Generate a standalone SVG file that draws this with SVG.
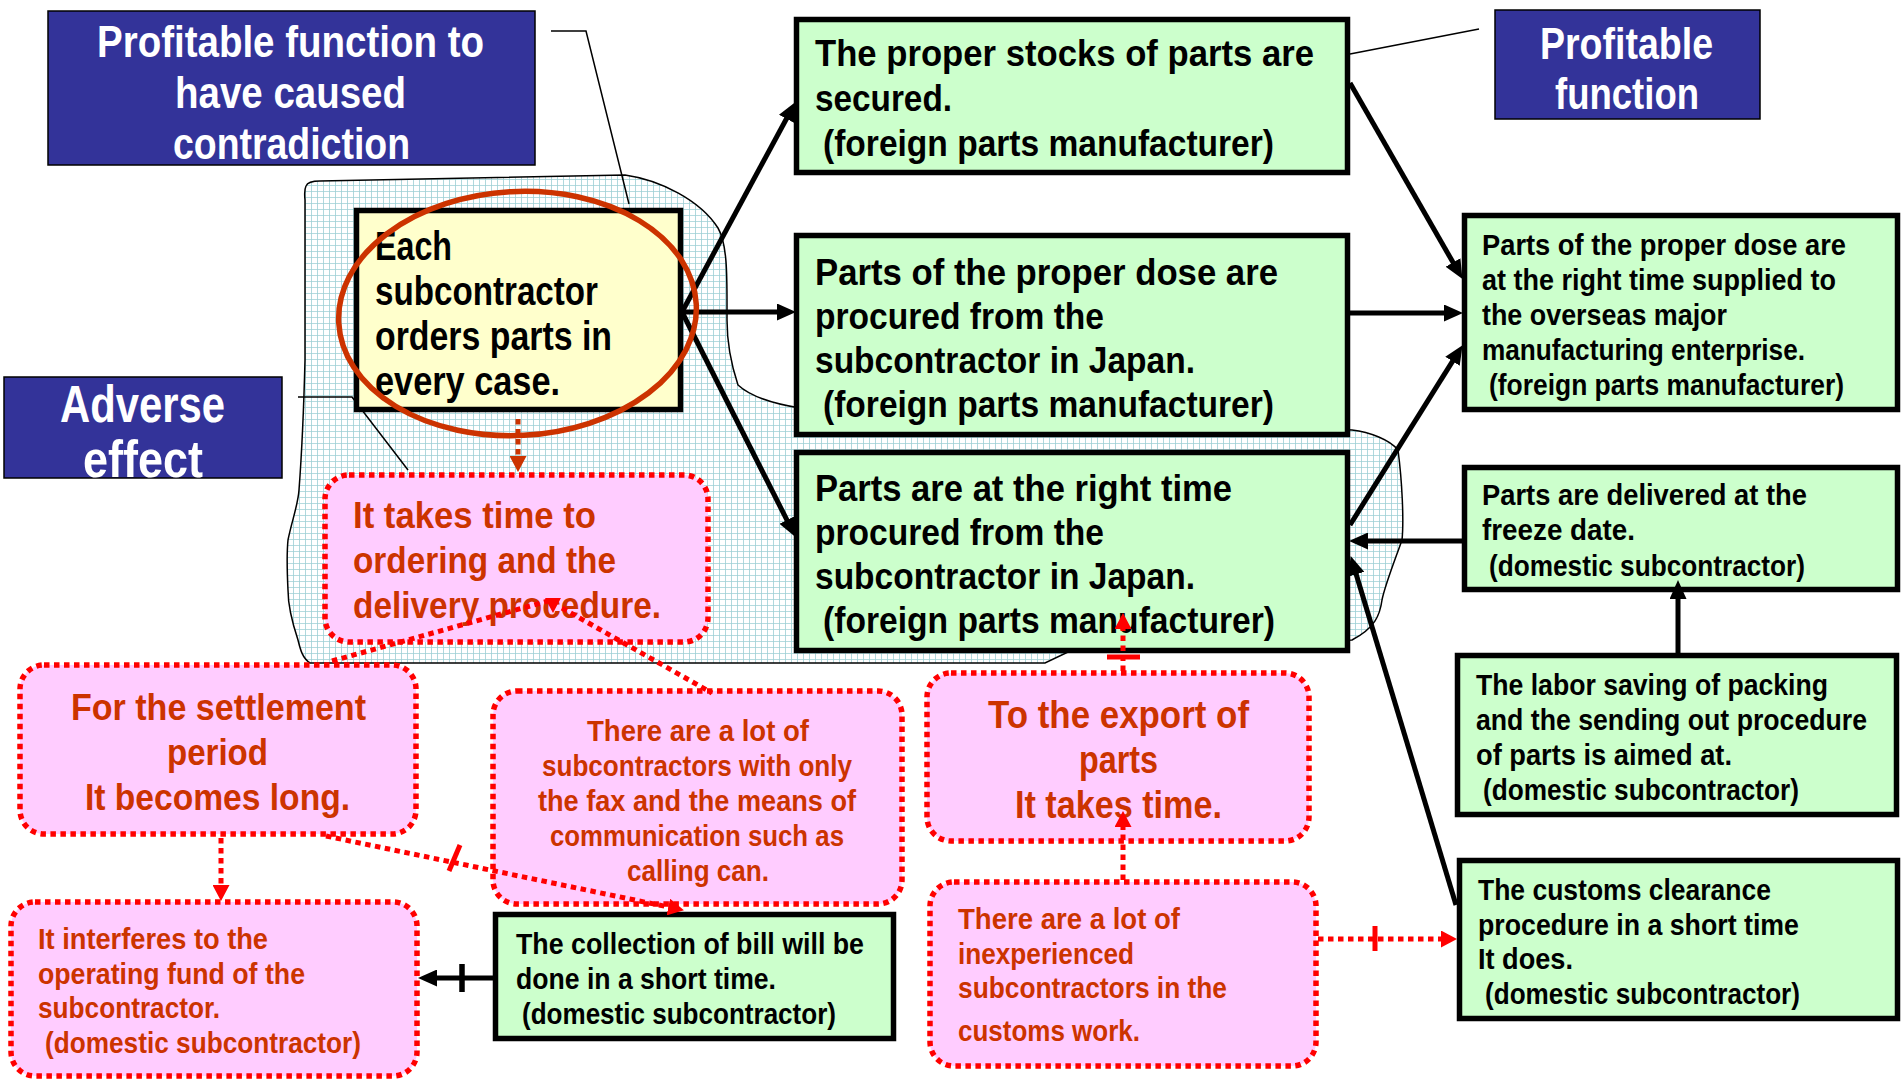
<svg xmlns="http://www.w3.org/2000/svg" width="1903" height="1081" viewBox="0 0 1903 1081">
<style>
text{font-family:"Liberation Sans",Arial,sans-serif;font-weight:bold}
.tw{fill:#fff;font-size:44px}
.tk{fill:#000}
.tr{fill:#CC3300}
.f41{font-size:41px}.f37{font-size:37px}.f38{font-size:38px}.f29{font-size:29px}.f52{font-size:52px}
.blue{fill:#333399;stroke:#000;stroke-width:1.5}
.green{fill:#CCFFCC;stroke:#000;stroke-width:5.5}
.yellow{fill:#FFFFCC;stroke:#000;stroke-width:5.5}
.pink{fill:#FFCCFF;stroke:#FF0000;stroke-width:5.5;stroke-dasharray:5.5 4.5}
.leader{fill:none;stroke:#000;stroke-width:1.5}
.blk{fill:none;stroke:#000;stroke-width:5;marker-end:url(#ab)}
.red{fill:none;stroke:#FF0000;stroke-width:5;stroke-dasharray:5.5 4.5;marker-end:url(#ar)}
.redn{fill:none;stroke:#FF0000;stroke-width:5;stroke-dasharray:5.5 4.5}
.tick{stroke:#FF0000;stroke-width:5}
</style>
<defs>
<pattern id="grid" width="6" height="6" patternUnits="userSpaceOnUse">
<rect width="6" height="6" fill="#fff"/>
<path d="M6 0V6M0 6H6" stroke="#9DCFD5" stroke-width="1.6"/>
</pattern>
<marker id="ab" markerUnits="userSpaceOnUse" markerWidth="19" markerHeight="17" refX="10" refY="8.5" orient="auto">
<path d="M0,0 L19,8.5 L0,17 Z" fill="#000"/>
</marker>
<marker id="ar" markerUnits="userSpaceOnUse" markerWidth="16" markerHeight="17" refX="9" refY="8.5" orient="auto">
<path d="M0,0 L16,8.5 L0,17 Z" fill="#FF0000"/>
</marker>
<marker id="ao" markerUnits="userSpaceOnUse" markerWidth="16" markerHeight="17" refX="9" refY="8.5" orient="auto">
<path d="M0,0 L16,8.5 L0,17 Z" fill="#CC3300"/>
</marker>
</defs>
<rect width="1903" height="1081" fill="#fff"/>

<g id="blob">
<path d="M306,186 Q308,181 320,181 L625,175 C660,180 700,200 718,228 C728,245 727,280 727,320 C727,345 733,370 738,385 C752,398 775,404 800,408 L1352,430 C1370,432 1390,440 1398,450 C1402,480 1404,520 1402,540 C1395,560 1385,585 1382,600 C1380,615 1375,628 1352,640 L1068,652 L1045,663 L310,663 C302,658 300,648 298,640 C293,625 288,605 288,590 C287,570 287,550 288,540 C292,520 298,505 299,490 C302,450 304,400 305,360 L305,200 Q304,190 306,186 Z" fill="url(#grid)" stroke="#000" stroke-width="1.5"/>
</g>

<g id="leaders">
<polyline class="leader" points="551,31 586,31 629,204"/>
<polyline class="leader" points="298,397 352,397 408,470"/>
<line class="leader" x1="1350" y1="54" x2="1479" y2="29"/>
</g>

<g id="label-contradiction">
<rect class="blue" x="48" y="11" width="487" height="154"/>
<text class="tw" x="97" y="57" textLength="387" lengthAdjust="spacingAndGlyphs">Profitable function to</text>
<text class="tw" x="175" y="108" textLength="231" lengthAdjust="spacingAndGlyphs">have caused</text>
<text class="tw" x="173" y="159" textLength="237" lengthAdjust="spacingAndGlyphs">contradiction</text>
</g>
<g id="label-profitable">
<rect class="blue" x="1495" y="10" width="265" height="109"/>
<text class="tw" x="1540" y="59" textLength="173" lengthAdjust="spacingAndGlyphs">Profitable</text>
<text class="tw" x="1555" y="109" textLength="144" lengthAdjust="spacingAndGlyphs">function</text>
</g>
<g id="label-adverse">
<rect class="blue" x="4" y="377" width="278" height="101"/>
<text class="tw f52" x="60" y="422" textLength="165" lengthAdjust="spacingAndGlyphs">Adverse</text>
<text class="tw f52" x="83" y="477" textLength="120" lengthAdjust="spacingAndGlyphs">effect</text>
</g>

<g id="n-order">
<rect class="yellow" x="356.5" y="210.5" width="324" height="199"/>
<text class="tk f41" x="375" y="260" textLength="77" lengthAdjust="spacingAndGlyphs">Each</text>
<text class="tk f41" x="375" y="305" textLength="223" lengthAdjust="spacingAndGlyphs">subcontractor</text>
<text class="tk f41" x="375" y="350" textLength="237" lengthAdjust="spacingAndGlyphs">orders parts in</text>
<text class="tk f41" x="375" y="395" textLength="185" lengthAdjust="spacingAndGlyphs">every case.</text>
</g>

<g id="n-stocks">
<rect class="green" x="796.5" y="19.5" width="551" height="153"/>
<text class="tk f37" x="815" y="66" textLength="499" lengthAdjust="spacingAndGlyphs">The proper stocks of parts are</text>
<text class="tk f37" x="815" y="111" textLength="137" lengthAdjust="spacingAndGlyphs">secured.</text>
<text class="tk f37" x="823" y="156" textLength="451" lengthAdjust="spacingAndGlyphs">(foreign parts manufacturer)</text>
</g>
<g id="n-dose">
<rect class="green" x="796.5" y="235.5" width="551" height="199"/>
<text class="tk f37" x="815" y="285" textLength="463" lengthAdjust="spacingAndGlyphs">Parts of the proper dose are</text>
<text class="tk f37" x="815" y="329" textLength="289" lengthAdjust="spacingAndGlyphs">procured from the</text>
<text class="tk f37" x="815" y="373" textLength="380" lengthAdjust="spacingAndGlyphs">subcontractor in Japan.</text>
<text class="tk f37" x="823" y="417" textLength="451" lengthAdjust="spacingAndGlyphs">(foreign parts manufacturer)</text>
</g>
<g id="n-time">
<rect class="green" x="796.5" y="452.5" width="551" height="198"/>
<text class="tk f37" x="815" y="501" textLength="417" lengthAdjust="spacingAndGlyphs">Parts are at the right time</text>
<text class="tk f37" x="815" y="545" textLength="289" lengthAdjust="spacingAndGlyphs">procured from the</text>
<text class="tk f37" x="815" y="589" textLength="380" lengthAdjust="spacingAndGlyphs">subcontractor in Japan.</text>
<text class="tk f37" x="823" y="633" textLength="452" lengthAdjust="spacingAndGlyphs">(foreign parts manufacturer)</text>
</g>
<g id="n-supply">
<rect class="green" x="1464.5" y="215.5" width="433" height="194"/>
<text class="tk f29" x="1482" y="255" textLength="364" lengthAdjust="spacingAndGlyphs">Parts of the proper dose are</text>
<text class="tk f29" x="1482" y="290" textLength="354" lengthAdjust="spacingAndGlyphs">at the right time supplied to</text>
<text class="tk f29" x="1482" y="325" textLength="245" lengthAdjust="spacingAndGlyphs">the overseas major</text>
<text class="tk f29" x="1482" y="360" textLength="323" lengthAdjust="spacingAndGlyphs">manufacturing enterprise.</text>
<text class="tk f29" x="1489" y="395" textLength="355" lengthAdjust="spacingAndGlyphs">(foreign parts manufacturer)</text>
</g>
<g id="n-freeze">
<rect class="green" x="1464.5" y="467.5" width="433" height="122"/>
<text class="tk f29" x="1482" y="505" textLength="325" lengthAdjust="spacingAndGlyphs">Parts are delivered at the</text>
<text class="tk f29" x="1482" y="540" textLength="153" lengthAdjust="spacingAndGlyphs">freeze date.</text>
<text class="tk f29" x="1489" y="576" textLength="316" lengthAdjust="spacingAndGlyphs">(domestic subcontractor)</text>
</g>
<g id="n-packing">
<rect class="green" x="1457.5" y="655.5" width="439" height="159"/>
<text class="tk f29" x="1476" y="695" textLength="352" lengthAdjust="spacingAndGlyphs">The labor saving of packing</text>
<text class="tk f29" x="1476" y="730" textLength="391" lengthAdjust="spacingAndGlyphs">and the sending out procedure</text>
<text class="tk f29" x="1476" y="765" textLength="256" lengthAdjust="spacingAndGlyphs">of parts is aimed at.</text>
<text class="tk f29" x="1483" y="800" textLength="316" lengthAdjust="spacingAndGlyphs">(domestic subcontractor)</text>
</g>
<g id="n-customs">
<rect class="green" x="1459.5" y="860.5" width="438" height="158"/>
<text class="tk f29" x="1478" y="900" textLength="293" lengthAdjust="spacingAndGlyphs">The customs clearance</text>
<text class="tk f29" x="1478" y="935" textLength="321" lengthAdjust="spacingAndGlyphs">procedure in a short time</text>
<text class="tk f29" x="1478" y="969" textLength="95" lengthAdjust="spacingAndGlyphs">It does.</text>
<text class="tk f29" x="1485" y="1004" textLength="315" lengthAdjust="spacingAndGlyphs">(domestic subcontractor)</text>
</g>
<g id="n-bill">
<rect class="green" x="495.5" y="914.5" width="398" height="124"/>
<text class="tk f29" x="516" y="954" textLength="348" lengthAdjust="spacingAndGlyphs">The collection of bill will be</text>
<text class="tk f29" x="516" y="989" textLength="260" lengthAdjust="spacingAndGlyphs">done in a short time.</text>
<text class="tk f29" x="522" y="1024" textLength="314" lengthAdjust="spacingAndGlyphs">(domestic subcontractor)</text>
</g>

<g id="n-ordering-time">
<rect class="pink" x="325" y="475" width="383" height="167" rx="24"/>
<text class="tr f37" x="353" y="528" textLength="243" lengthAdjust="spacingAndGlyphs">It takes time to</text>
<text class="tr f37" x="353" y="573" textLength="263" lengthAdjust="spacingAndGlyphs">ordering and the</text>
<text class="tr f37" x="353" y="618" textLength="308" lengthAdjust="spacingAndGlyphs">delivery procedure.</text>
</g>
<g id="n-settlement">
<rect class="pink" x="20" y="665" width="396" height="169" rx="24"/>
<text class="tr f37" x="71" y="720" textLength="295" lengthAdjust="spacingAndGlyphs">For the settlement</text>
<text class="tr f37" x="167" y="765" textLength="101" lengthAdjust="spacingAndGlyphs">period</text>
<text class="tr f37" x="85" y="810" textLength="265" lengthAdjust="spacingAndGlyphs">It becomes long.</text>
</g>
<g id="n-fax">
<rect class="pink" x="493" y="691" width="409" height="213" rx="24"/>
<text class="tr f29" x="587" y="741" textLength="222" lengthAdjust="spacingAndGlyphs">There are a lot of</text>
<text class="tr f29" x="542" y="776" textLength="310" lengthAdjust="spacingAndGlyphs">subcontractors with only</text>
<text class="tr f29" x="538" y="811" textLength="318" lengthAdjust="spacingAndGlyphs">the fax and the means of</text>
<text class="tr f29" x="550" y="846" textLength="294" lengthAdjust="spacingAndGlyphs">communication such as</text>
<text class="tr f29" x="627" y="881" textLength="142" lengthAdjust="spacingAndGlyphs">calling can.</text>
</g>
<g id="n-export">
<rect class="pink" x="927" y="673" width="382" height="168" rx="24"/>
<text class="tr f38" x="988" y="728" textLength="261" lengthAdjust="spacingAndGlyphs">To the export of</text>
<text class="tr f38" x="1079" y="773" textLength="79" lengthAdjust="spacingAndGlyphs">parts</text>
<text class="tr f38" x="1015" y="818" textLength="207" lengthAdjust="spacingAndGlyphs">It takes time.</text>
</g>
<g id="n-inexperienced">
<rect class="pink" x="930" y="882" width="386" height="184" rx="24"/>
<text class="tr f29" x="958" y="929" textLength="222" lengthAdjust="spacingAndGlyphs">There are a lot of</text>
<text class="tr f29" x="958" y="964" textLength="176" lengthAdjust="spacingAndGlyphs">inexperienced</text>
<text class="tr f29" x="958" y="998" textLength="269" lengthAdjust="spacingAndGlyphs">subcontractors in the</text>
<text class="tr f29" x="958" y="1041" textLength="182" lengthAdjust="spacingAndGlyphs">customs work.</text>
</g>
<g id="n-fund">
<rect class="pink" x="11" y="902" width="406" height="174" rx="24"/>
<text class="tr f29" x="38" y="949" textLength="230" lengthAdjust="spacingAndGlyphs">It interferes to the</text>
<text class="tr f29" x="38" y="984" textLength="267" lengthAdjust="spacingAndGlyphs">operating fund of the</text>
<text class="tr f29" x="38" y="1018" textLength="182" lengthAdjust="spacingAndGlyphs">subcontractor.</text>
<text class="tr f29" x="45" y="1053" textLength="316" lengthAdjust="spacingAndGlyphs">(domestic subcontractor)</text>
</g>

<g id="connectors">
<line class="blk" x1="682" y1="312" x2="791.2" y2="110"/>
<line class="blk" x1="682" y1="312" x2="787" y2="312"/>
<line class="blk" x1="682" y1="312" x2="791.4" y2="528.9"/>
<line class="blk" x1="1350" y1="83" x2="1458" y2="271.1"/>
<line class="blk" x1="1350" y1="313" x2="1454" y2="313"/>
<line class="blk" x1="1350" y1="525" x2="1457.8" y2="352.8"/>
<line class="blk" x1="1462" y1="541" x2="1358" y2="541"/>
<line class="blk" x1="1456" y1="905" x2="1353.3" y2="564.7"/>
<line class="blk" x1="1678" y1="653" x2="1678" y2="589"/>
<line class="blk" x1="494" y1="978" x2="427" y2="978"/>
<line x1="462" y1="964" x2="462" y2="992" stroke="#000" stroke-width="5.5"/>

<line x1="518" y1="419" x2="518" y2="465" fill="none" stroke="#CC3300" stroke-width="5" stroke-dasharray="5.5 4.5" marker-end="url(#ao)"/>
<line class="redn" x1="332" y1="661" x2="548" y2="601"/>
<polygon points="545,598 561,598 553,613" fill="#FF0000"/>
<line class="redn" x1="562" y1="608" x2="712" y2="693"/>
<line class="red" x1="221" y1="838" x2="221" y2="894"/>
<line class="red" x1="326" y1="836" x2="677.1" y2="908.8"/>
<line class="tick" x1="460" y1="845" x2="449" y2="871"/>
<line class="red" x1="1123" y1="671" x2="1123" y2="620"/>
<line class="tick" x1="1107" y1="657" x2="1140" y2="657"/>
<line class="red" x1="1123" y1="880" x2="1123" y2="818"/>
<line class="red" x1="1318" y1="939" x2="1450" y2="939"/>
<line class="tick" x1="1375" y1="926" x2="1375" y2="951"/>
</g>

<g id="highlight">
<ellipse cx="517.5" cy="313.5" rx="179" ry="122" transform="rotate(-3 517.5 313.5)" fill="none" stroke="#CC3300" stroke-width="5.5"/>
</g>
</svg>
